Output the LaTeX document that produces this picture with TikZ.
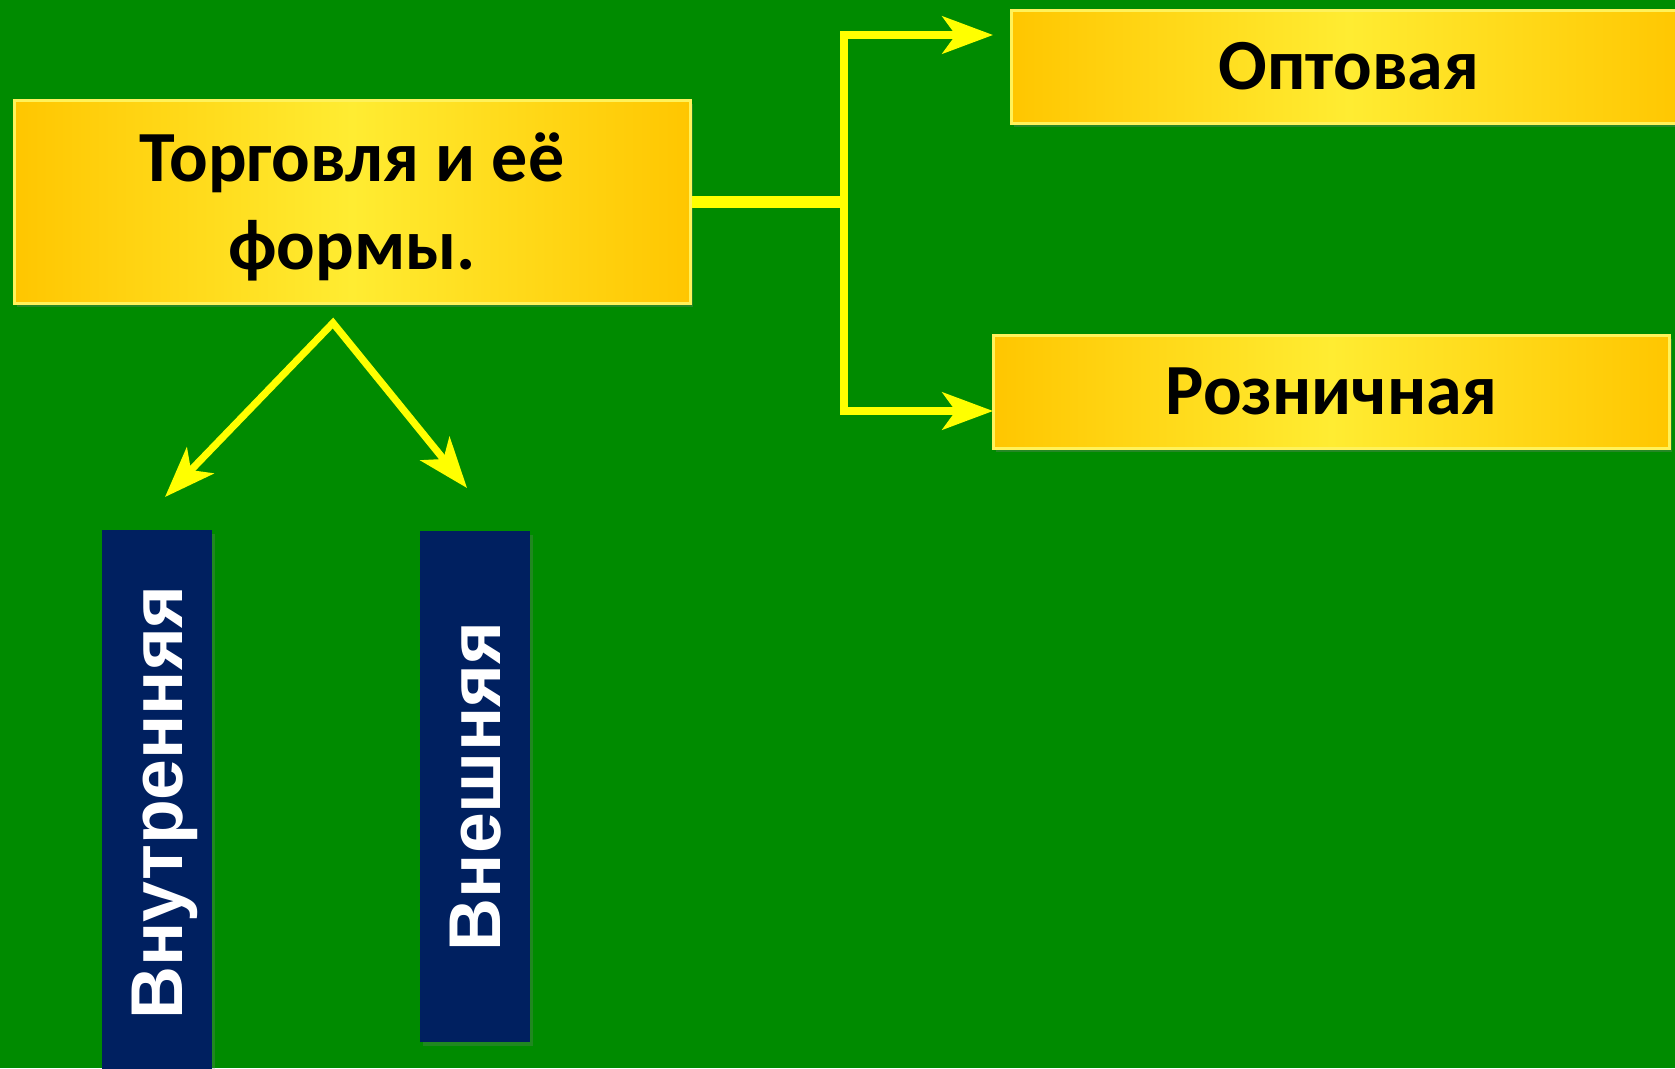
\documentclass[tikz,border=0pt]{standalone}
\usepackage{fontspec}
\setmainfont{Carlito}
\newfontfamily\barfont{Liberation Sans}
\usetikzlibrary{arrows.meta,shadows}

\definecolor{fieldgreen}{RGB}{0,139,0}
\definecolor{boxgold}{RGB}{255,198,0}
\definecolor{boxlight}{RGB}{255,236,50}
\definecolor{boxedge}{RGB}{255,242,90}
\definecolor{barblue}{RGB}{0,32,96}
\definecolor{linkyellow}{RGB}{255,255,0}

\tikzset{every picture/.style={line width=0.75pt},
  formbox/.style={draw=boxedge, line width=2.25pt, left color=boxgold, right color=boxgold, middle color=boxlight,
    minimum width=507pt, inner sep=0pt, text=black, align=center, font=\bfseries\fontsize{54}{66}\selectfont,
    drop shadow={shadow xshift=2pt, shadow yshift=-3pt, opacity=0.3}},
  kindbar/.style={fill=barblue, rotate=90, minimum height=82.5pt, inner sep=0pt, text=white, text depth=0pt,
    font=\barfont\bfseries\fontsize{55}{66}\selectfont,
    drop shadow={shadow xshift=2pt, shadow yshift=-3pt, opacity=0.25}},
  link/.style={draw=linkyellow, line width=5.4pt, line join=miter},
  linkhead/.style={-{Stealth[length=38pt,width=28pt,inset=10pt]}}
}

\begin{document}
\begin{tikzpicture}[x=0.75pt,y=0.75pt,yscale=-1,xscale=1]
\useasboundingbox (0,0) rectangle (1675,1068);
\clip (0,0) rectangle (1675,1068);

%Background
\fill[fieldgreen] (0,0) rectangle (1675,1068);

% Boxes
\node[formbox, minimum height=152.25pt, text depth=0pt] (trade) at (352,201.5) {Торговля и её\\формы.};
\node[formbox, minimum height=84.75pt] (wholesale) at (1349,66.5) {Оптовая};
\node[formbox, minimum height=84.75pt] (retail) at (1331.5,391.5) {Розничная};

% Bars
\node[kindbar, minimum width=408.75pt] (inner) at (157,802.5) {Внутренняя};
\node[kindbar, minimum width=383.25pt] (outer) at (475,786.5) {Внешняя};

% Points of the connectors
\coordinate (fork) at (844,201.5);
\coordinate (wholesalein) at (993,35);
\coordinate (retailin) at (993,411);
\coordinate (split) at (333,323);
\coordinate (innerin) at (165,497);
\coordinate (outerin) at (467,488);

%Straight Lines
\draw[link, line width=9pt] (trade.east) -- (fork);
\draw[link, linkhead] (fork) |- (wholesalein);
\draw[link, linkhead] (fork) |- (retailin);
\draw[link, {Stealth[length=38pt,width=28pt,inset=10pt]}-{Stealth[length=38pt,width=28pt,inset=10pt]}] (innerin) -- (split) -- (outerin);

\end{tikzpicture}
\end{document}
